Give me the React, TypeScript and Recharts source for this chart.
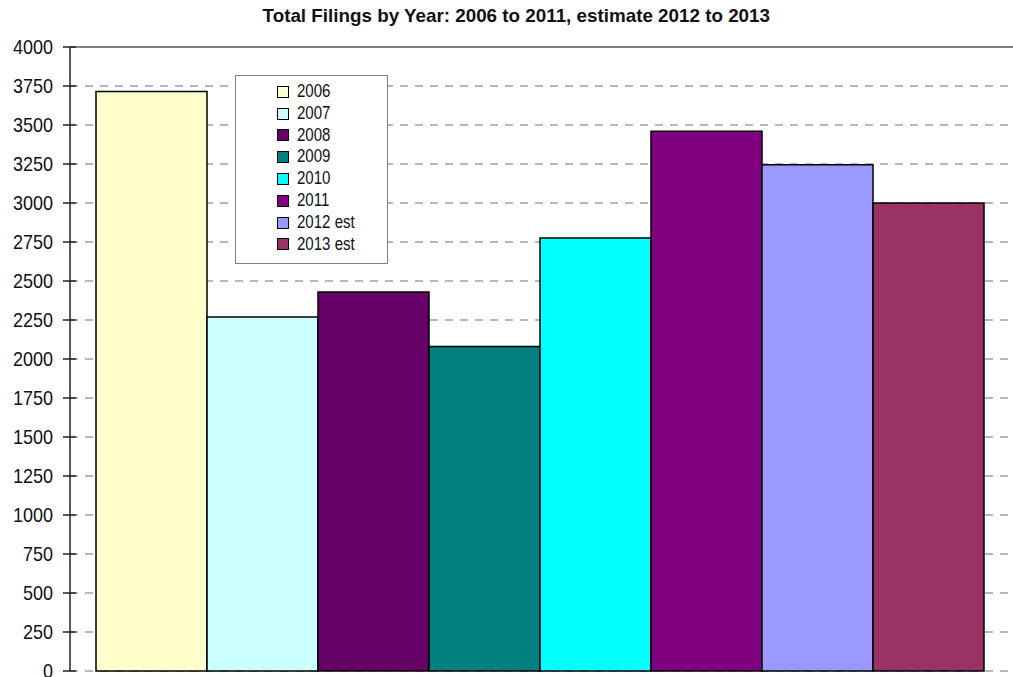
import React from 'react';
import { BarChart, Bar, XAxis, YAxis, CartesianGrid, Legend, ReferenceLine } from 'recharts';

const seriesNames = ['2006', '2007', '2008', '2009', '2010', '2011', '2012 est', '2013 est'];
const seriesValues = [3715, 2270, 2430, 2080, 2775, 3460, 3245, 3000];
const seriesColors = ['#FFFFCC', '#CCFFFF', '#660066', '#008080', '#00FFFF', '#800080', '#9999FF', '#993366'];
const yTicks = [0, 250, 500, 750, 1000, 1250, 1500, 1750, 2000, 2250, 2500, 2750, 3000, 3250, 3500, 3750, 4000];
const title = 'Total Filings by Year: 2006 to 2011, estimate 2012 to 2013';

const FONT = "'Liberation Sans', Arial, sans-serif";

const row: Record<string, number | string> = { name: 'Total Filings' };
seriesNames.forEach((n, i) => {
  row['s' + i] = seriesValues[i];
});
const data = [row];

const YTick = (props: any) => {
  const { x, y, payload } = props;
  return (
    <g>
      <line x1={x - 7} x2={x + 6} y1={y} y2={y} stroke="#222" strokeWidth={1.5} />
      <text
        transform={`translate(${x - 17},${y}) scale(0.9,1)`}
        x={0}
        y={0}
        dy="0.36em"
        textAnchor="end"
        fontFamily={FONT}
        fontSize={20}
        fill="#111"
      >
        {payload.value}
      </text>
    </g>
  );
};

const LegendBox = (props: any) => {
  const payload = props.payload || [];
  return (
    <div
      style={{
        width: 151,
        height: 182,
        border: '1px solid #808080',
        background: '#fff',
        boxSizing: 'content-box',
        paddingTop: 5,
        fontFamily: FONT,
        fontSize: 17.5,
        color: '#111',
      }}
    >
      {payload.map((p: any, i: number) => (
        <div key={i} style={{ height: 21.8, display: 'flex', alignItems: 'center', paddingLeft: 41 }}>
          <span
            style={{
              display: 'inline-block',
              width: 10,
              height: 10,
              background: p.color,
              border: '1.5px solid #000',
              marginRight: 8,
              flex: 'none',
            }}
          />
          <span
            style={{
              lineHeight: '21.8px',
              display: 'inline-block',
              transform: 'scaleX(0.86)',
              transformOrigin: 'left center',
              whiteSpace: 'nowrap',
            }}
          >
            {p.value}
          </span>
        </div>
      ))}
    </div>
  );
};

export default function App() {
  return (
    <div style={{ position: 'absolute', left: 0, top: 0, width: 1013, height: 690, background: '#fff' }}>
      <div
        style={{
          position: 'absolute',
          left: 0,
          top: 5,
          width: 1033,
          textAlign: 'center',
          zIndex: 2,
        }}
      >
        <span
          style={{
            display: 'inline-block',
            fontFamily: FONT,
            fontWeight: 'bold',
            fontSize: 19,
            color: '#111',
            transform: 'scaleX(0.99)',
            transformOrigin: 'center',
            whiteSpace: 'nowrap',
          }}
        >
          {title}
        </span>
      </div>
      <BarChart
        width={1013}
        height={690}
        data={data}
        margin={{ top: 47, right: 0, bottom: 19, left: 0 }}
        barGap={0}
        barCategoryGap={26}
      >
        <CartesianGrid vertical={false} stroke="#a0a0a0" strokeDasharray="8 7" strokeWidth={1.5} />
        <XAxis
          dataKey="name"
          tick={false}
          tickLine={false}
          height={0}
          axisLine={{ stroke: '#a0a0a0', strokeWidth: 2 }}
        />
        <YAxis
          width={70}
          domain={[0, 4000]}
          ticks={yTicks}
          interval={0}
          tickLine={false}
          tickSize={0}
          tickMargin={0}
          tick={<YTick />}
          axisLine={{ stroke: '#222', strokeWidth: 1.5 }}
        />
        <ReferenceLine y={4000} stroke="#808080" strokeWidth={2} />
        <Legend
          layout="vertical"
          align="center"
          verticalAlign="middle"
          content={<LegendBox />}
          wrapperStyle={{ position: 'absolute', left: 235, top: 75, width: 153 }}
        />
        {seriesNames.map((n, i) => (
          <Bar
            key={n}
            dataKey={'s' + i}
            name={n}
            fill={seriesColors[i]}
            stroke="#000"
            strokeWidth={1.5}
            isAnimationActive={false}
          />
        ))}
      </BarChart>
    </div>
  );
}
